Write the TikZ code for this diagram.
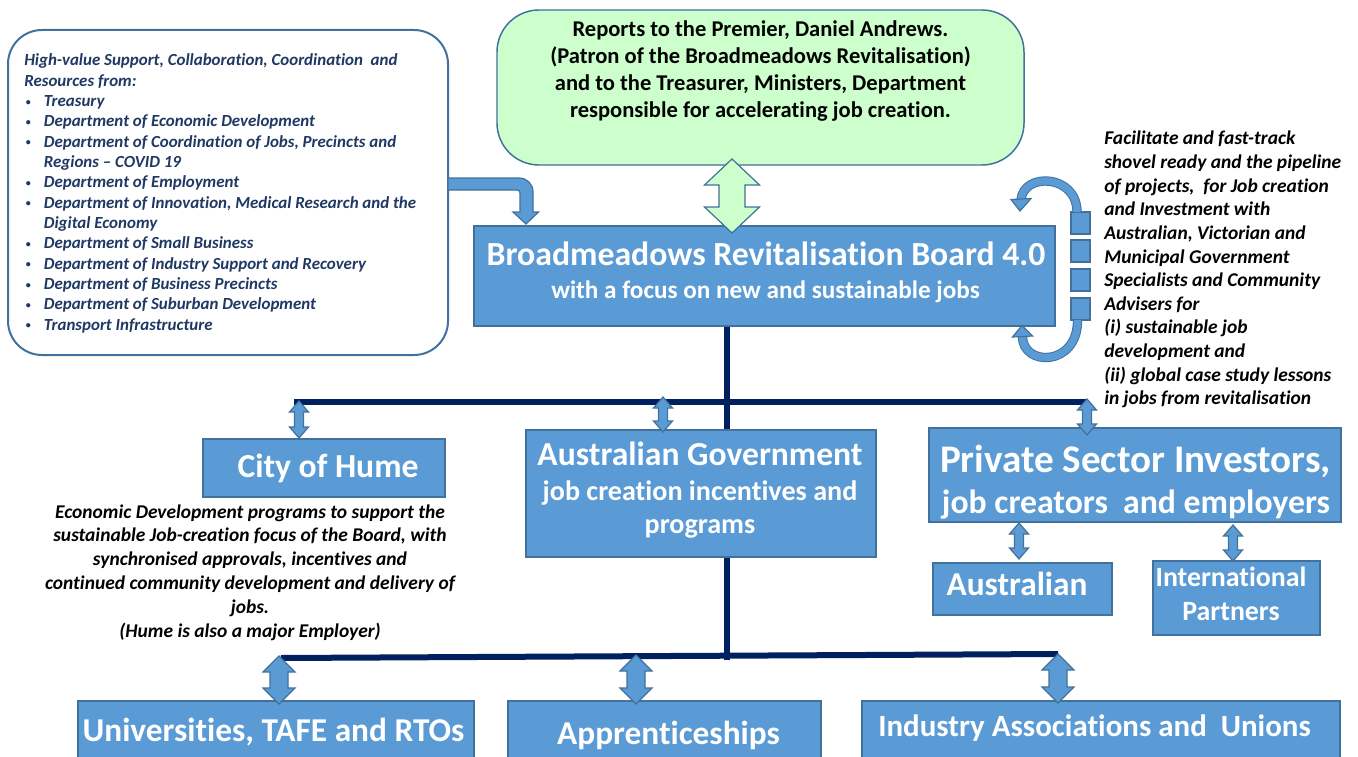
\documentclass[tikz,border=0pt]{standalone}
\usepackage{fontspec}
\setmainfont{Carlito}[Ligatures={NoCommon,NoContextual}]
\usetikzlibrary{calc}
\definecolor{bfill}{HTML}{5B9BD5}
\definecolor{bline}{HTML}{41719C}
\definecolor{gfill}{HTML}{CCFFCC}
\definecolor{navy}{HTML}{002060}
\definecolor{ltext}{HTML}{1F3864}
\newcommand{\fsz}[1]{\fontsize{#1}{#1}\selectfont}
\newcommand{\dbarrow}[6]{%
 \draw[#6] (#1) -- ($(#1)+(#3,#5)$) -- ($(#1)+(#4,#5)$) -- ($(#2)+(#4,-#5)$) -- ($(#2)+(#3,-#5)$) -- (#2) -- ($(#2)+(-#3,-#5)$) -- ($(#2)+(-#4,-#5)$) -- ($(#1)+(-#4,#5)$) -- ($(#1)+(-#3,#5)$) -- cycle;}
\begin{document}
\begin{tikzpicture}[x=0.75pt,y=-0.75pt,
 pxbox/.style 2 args={minimum width=#1*0.75pt, minimum height=#2*0.75pt, inner sep=0pt, outer sep=0pt},
 bluebox/.style={rectangle, draw=bline, fill=bfill, line width=1.1pt},
 blueshape/.style={fill=bfill, draw=bline, line width=0.9pt},
 greenshape/.style={fill=gfill, draw=bline, line width=0.9pt},
 navyline/.style={draw=navy, line width=4.5pt},
 wt/.style={inner sep=0pt, anchor=base, text=white, font=\fsz{#1}\bfseries},
 bt/.style={inner sep=0pt, anchor=base, text=black, font=\fsz{#1}\bfseries},
 it/.style={inner sep=0pt, text=black, font=\fsz{#1}\bfseries\itshape},
 lt/.style={inner sep=0pt, anchor=base west, text=ltext, font=\fsz{12.7}\bfseries\itshape},
 bul/.style={inner sep=0pt, anchor=base west, text=ltext, font=\fsz{7.5}\bfseries}]
\useasboundingbox (0,0) rectangle (1358,756);
\clip (0,0) rectangle (1358,756);
\fill[white] (0,0) rectangle (1358,756);

% coordinates for connectors
\coordinate (vtop) at (727,326);
\coordinate (vbot) at (727,660);
\coordinate (mL) at (294,402);
\coordinate (mR) at (1087,402);
\coordinate (bL) at (281,658);
\coordinate (bR) at (1058,654);

% navy lines (behind boxes)
\draw[navyline] (vtop) -- (vbot);
\draw[navyline] (mL) -- (mR);
\draw[navyline] (bL) -- (bR);

% boxes
\node[rectangle, rounded corners=25.5pt, draw=bline, line width=1.5pt, fill=white, pxbox={440}{325}] (lbox) at (228,192.5) {};
\node[rectangle, rounded corners=31.5pt, draw=bline, line width=1.1pt, fill=gfill, pxbox={527}{155}] (gbox) at (760.5,87.5) {};
\node[bluebox, pxbox={581}{100}] (board) at (764.5,276) {};
\node[bluebox, pxbox={242}{58}] (hume) at (324,468) {};
\node[bluebox, pxbox={350}{127}] (ag) at (701,493.5) {};
\node[bluebox, pxbox={412}{94}] (ps) at (1135,475) {};
\node[bluebox, pxbox={179}{52}] (au) at (1022.5,589) {};
\node[bluebox, pxbox={167}{74}] (ip) at (1236.5,598) {};
\node[bluebox, pxbox={396}{69}] (uni) at (276,735.5) {};
\node[bluebox, pxbox={313}{69}] (app) at (664.5,735.5) {};
\node[bluebox, pxbox={478}{69}] (ind) at (1101,735.5) {};

% squares at right of board
\node[bluebox, pxbox={19}{22}] (sq1) at (1080.5,223) {};
\node[bluebox, pxbox={19}{22}] (sq2) at (1080.5,251) {};
\node[bluebox, pxbox={19}{22}] (sq3) at (1080.5,280) {};
\node[bluebox, pxbox={19}{22}] (sq4) at (1080.5,309) {};

% curved arrows around the squares
\coordinate (ct0) at ($(sq1.north)+(-3.5,0)$);
\coordinate (ct1) at (1021,200);
\coordinate (cb0) at ($(sq4.south)+(-3,0)$);
\coordinate (cb1) at (1022.5,336);
\draw[bline, line width=0.75pt, double=bfill, double distance=5.5pt] (ct0) .. controls (1077,174) and (1023,172) .. (ct1);
\draw[blueshape] (1011,199.5) -- (1031,198.5) -- (1020,211) -- cycle;
\draw[bline, line width=0.75pt, double=bfill, double distance=5.5pt] (cb0) .. controls (1078,367) and (1022,367) .. (cb1);
\draw[blueshape] (1012.5,337) -- (1032.5,336) -- (1022,325.5) -- cycle;

% bent arrow from left box to board
\draw[blueshape] ($(lbox.east|-0,178)$) -- (519,178) .. controls (527,178) and (533,184) .. (533,192) -- (533,212) -- (538.5,212) -- (526,224) -- (513,212) -- (520,212) -- (520,193) .. controls (520,191) and (519,190) .. (517,190) -- ($(lbox.east|-0,190)$) -- cycle;

% green double arrow between green box and board
\coordinate (ga1) at (732,159);
\coordinate (ga2) at (732,233);
\dbarrow{ga1}{ga2}{27.5}{13}{26}{greenshape}

% small double arrows from the middle bar
\coordinate (m1t) at (299,401); \coordinate (m1b) at (299,438);
\coordinate (m2t) at (663,397); \coordinate (m2b) at (663,432);
\coordinate (m3t) at (1087,399); \coordinate (m3b) at (1087,435);
\dbarrow{m1t}{m1b}{9.5}{4.5}{11}{blueshape}
\dbarrow{m2t}{m2b}{9.5}{4.5}{11}{blueshape}
\dbarrow{m3t}{m3b}{9.5}{4.5}{11}{blueshape}
% below private sector
\coordinate (p1t) at (1019,523); \coordinate (p1b) at (1019,559);
\coordinate (p2t) at (1233,525); \coordinate (p2b) at (1233,561);
\dbarrow{p1t}{p1b}{9.5}{4.5}{11}{blueshape}
\dbarrow{p2t}{p2b}{9.5}{4.5}{11}{blueshape}
% bottom arrows
\coordinate (b1t) at (279,656); \coordinate (b1b) at (279,704);
\coordinate (b2t) at (636,655); \coordinate (b2b) at (636,704);
\coordinate (b3t) at (1058,654); \coordinate (b3b) at (1058,703);
\dbarrow{b1t}{b1b}{16}{9}{16}{blueshape}
\dbarrow{b2t}{b2b}{16}{9}{16}{blueshape}
\dbarrow{b3t}{b3b}{16}{9}{16}{blueshape}

% texts in the green box
\node[bt=16.9] (g1) at (760.5,36.7) {Reports to the Premier, Daniel Andrews.};
\node[bt=16.9] (g2) at (760.5,63.5) {(Patron of the Broadmeadows Revitalisation)};
\node[bt=16.9] (g3) at (760.5,90.5) {and to the Treasurer, Ministers, Department};
\node[bt=16.9] (g4) at (760.5,117.5) {responsible for accelerating job creation.};

% board texts
\node[wt=25.3] (bt1) at (766,265) {Broadmeadows Revitalisation Board 4.0};
\node[wt=18.9] (bt2) at (765.5,298.5) {with a focus on new and sustainable jobs};

% other box texts
\node[wt=25.2] (ht) at (328,477) {City of Hume};
\node[wt=25.2] (ag1) at (700,465) {Australian Government};
\node[wt=21.1] (ag2) at (700,500.5) {job creation incentives and};
\node[wt=21.1] (ag3) at (700,533) {programs};
\node[wt=29.3] (ps1) at (1135.5,472) {Private Sector Investors,};
\node[wt=25.3] (ps2) at (1136,513) {job creators~ and employers};
\node[wt=25] (aut) at (1017,595) {Australian};
\node[wt=20.9] (ip1) at (1231,586) {International};
\node[wt=20.9] (ip2) at (1231,620.5) {Partners};
\node[wt=25] (unt) at (273.5,741) {Universities, TAFE and RTOs};
\node[wt=25] (apt) at (668.5,744) {Apprenticeships};
\node[wt=23.2] (indt) at (1094.5,736.5) {Industry Associations and~ Unions};

% left box texts
\node[lt] (lh0) at (24,66) {High-value Support, Collaboration, Coordination~ and};
\node[lt] (lh1) at (24,86.3) {Resources from:};
\foreach \i/\t in {2/{Treasury},3/{Department of Economic Development},4/{Department of Coordination of Jobs, Precincts and},6/{Department of Employment},7/{Department of Innovation, Medical Research and the},9/{Department of Small Business},10/{Department of Industry Support and Recovery},11/{Department of Business Precincts},12/{Department of Suburban Development},13/{Transport Infrastructure}}{
  \node[bul] (lb\i) at (25.5,64.5+20.32*\i) {•};
  \node[lt] (li\i) at (43.6,66+20.32*\i) {\t};
}
\node[lt] (li5) at (43.6,66+20.32*5) {Regions – COVID 19};
\node[lt] (li8) at (43.6,66+20.32*8) {Digital Economy};

% right description
\foreach \i/\t in {0/{Facilitate and fast-track},1/{shovel ready and the pipeline},2/{of projects,~ for Job creation},3/{and Investment with},4/{Australian, Victorian and},5/{Municipal Government},6/{Specialists and Community},7/{Advisers for},8/{(i) sustainable job},9/{development and},10/{(ii) global case study lessons},11/{in jobs from revitalisation}}{
  \node[it=14.6, anchor=base west] (r\i) at (1104,145+23.6*\i) {\t};
}

% City of Hume description
\foreach \i/\t in {0/{Economic Development programs to support the},1/{sustainable Job-creation focus of the Board, with},2/{synchronised approvals, incentives and},3/{continued community development and delivery of},4/{jobs.},5/{(Hume is also a major Employer)}}{
  \node[it=14.6, anchor=base] (h\i) at (250,518+23.8*\i) {\t};
}
\end{tikzpicture}
\end{document}
